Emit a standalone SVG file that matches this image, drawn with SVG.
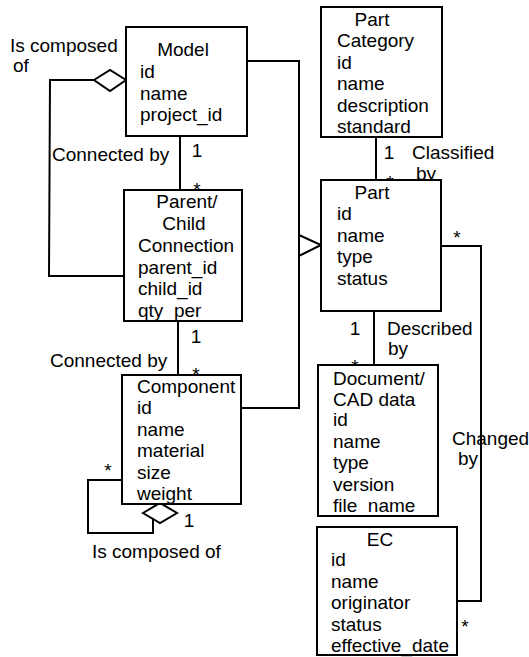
<svg xmlns="http://www.w3.org/2000/svg" width="529" height="657" viewBox="0 0 529 657">
<style>
.box{fill:#fff;stroke:#000;stroke-width:2}
.ln{fill:none;stroke:#000;stroke-width:2}
.sh{fill:#fff;stroke:#000;stroke-width:2;stroke-linejoin:miter}
text{font-family:"Liberation Sans",Arial,sans-serif;font-size:19px;fill:#000}
.m{text-anchor:middle}
</style>
<rect width="529" height="657" fill="#fff"/>
<g id="connectors">
<line class="ln" x1="180" y1="136" x2="180" y2="190"/>
<line class="ln" x1="178" y1="321" x2="178" y2="375"/>
<line class="ln" x1="376" y1="137" x2="376" y2="180"/>
<line class="ln" x1="374" y1="311" x2="374" y2="365"/>
<polyline class="ln" points="94,80 50,80 49,276 124,276"/>
<polygon class="sh" points="94,80 110,70 126,80 110,91"/>
<polyline class="ln" points="247,61 299,61 299,408 241,408"/>
<polygon class="sh" points="299,235 321,245 299,256"/>
<polyline class="ln" points="441,246 481,246 481,601 457,601"/>
<polyline class="ln" points="122,480 88,480 88,533 153,533 153,519"/>
<polygon class="sh" points="143,513 160,503 177,513 160,523"/>
<text x="10" y="52">Is composed</text>
<text x="13" y="72">of</text>
<text x="52" y="161">Connected by</text>
<text class="m" x="197" y="157">1</text>
<text class="m" x="197" y="196">*</text>
<text x="50" y="367">Connected by</text>
<text class="m" x="196" y="343">1</text>
<text class="m" x="196" y="381">*</text>
<text class="m" x="389" y="159">1</text>
<text x="412" y="159">Classified</text>
<text x="416" y="180">by</text>
<text class="m" x="390" y="189">*</text>
<text class="m" x="355" y="335">1</text>
<text class="m" x="355" y="373">*</text>
<text x="387" y="335">Described</text>
<text x="388" y="355">by</text>
<text class="m" x="457" y="244">*</text>
<text class="m" x="465" y="633">*</text>
<text x="452" y="445">Changed</text>
<text x="458" y="465">by</text>
<text class="m" x="108" y="477">*</text>
<text class="m" x="189" y="527">1</text>
<text x="92" y="558">Is composed of</text>
</g>
<g id="model">
<rect class="box" x="126" y="27" width="121" height="109"/>
<text class="m" x="183" y="56">Model</text>
<text x="140" y="78">id</text>
<text x="140" y="99.5">name</text>
<text x="140" y="121">project_id</text>
</g>
<g id="part-category">
<rect class="box" x="321" y="7" width="121" height="130"/>
<text class="m" x="372" y="26">Part</text>
<text x="337" y="47">Category</text>
<text x="337" y="68.5">id</text>
<text x="337" y="90">name</text>
<text x="337" y="111.5">description</text>
<text x="337" y="133">standard</text>
</g>
<g id="part">
<rect class="box" x="321" y="180" width="120" height="131"/>
<text class="m" x="372" y="198.5">Part</text>
<text x="337" y="220">id</text>
<text x="337" y="241.5">name</text>
<text x="337" y="263">type</text>
<text x="337" y="285">status</text>
</g>
<g id="parent-child">
<rect class="box" x="124" y="190" width="118" height="131"/>
<text class="m" x="187" y="208">Parent/</text>
<text class="m" x="184" y="230">Child</text>
<text x="138" y="252">Connection</text>
<text x="138" y="273.5">parent_id</text>
<text x="138" y="295">child_id</text>
<text x="138" y="316.5">qty_per</text>
</g>
<g id="component">
<rect class="box" x="122" y="375" width="119" height="129"/>
<text x="137" y="393">Component</text>
<text x="137" y="414">id</text>
<text x="137" y="435.5">name</text>
<text x="137" y="457">material</text>
<text x="137" y="478.5">size</text>
<text x="137" y="500">weight</text>
</g>
<g id="document">
<rect class="box" x="318" y="365" width="120" height="151"/>
<text x="333" y="384.5">Document/</text>
<text x="333" y="405.5">CAD data</text>
<text x="333" y="426">id</text>
<text x="333" y="447.5">name</text>
<text x="333" y="469">type</text>
<text x="333" y="490.5">version</text>
<text x="333" y="512">file_name</text>
</g>
<g id="ec">
<rect class="box" x="317" y="527" width="140" height="128"/>
<text class="m" x="380" y="546">EC</text>
<text x="331" y="566">id</text>
<text x="331" y="588">name</text>
<text x="331" y="609">originator</text>
<text x="331" y="631">status</text>
<text x="331" y="652">effective_date</text>
</g>
</svg>
